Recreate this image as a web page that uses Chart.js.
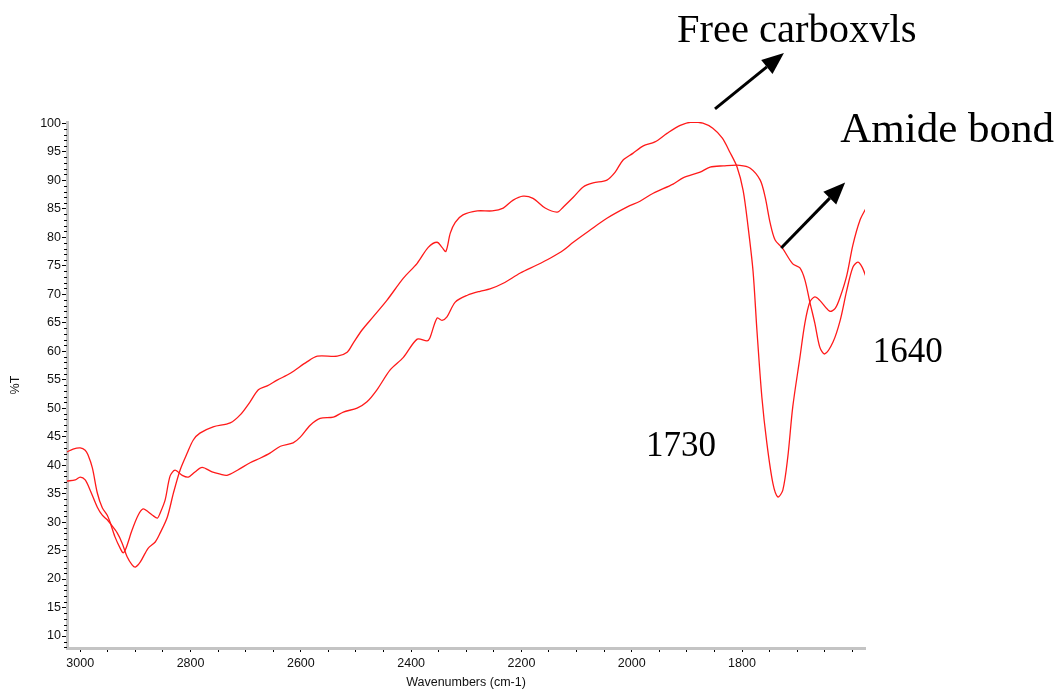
<!DOCTYPE html>
<html>
<head>
<meta charset="utf-8">
<script src="https://cdn.jsdelivr.net/npm/chart.js@4.4.1/dist/chart.umd.min.js"></script>
<style>
  html, body { margin: 0; padding: 0; background: #ffffff; }
  canvas { display: block; }
</style>
</head>
<body>
<canvas id="ftir" width="1057" height="692"></canvas>
<script>
// FTIR transmittance spectra, wavenumber (cm-1) vs %T
const carboxylWavenumbers = [
  3024, 3009, 3000, 2991, 2982, 2969, 2960, 2951, 2946, 2933, 2924, 2915, 2906, 2900, 2891,
  2877, 2864, 2855, 2842, 2831, 2819, 2806, 2795, 2783, 2759, 2728, 2710, 2692, 2677, 2661,
  2643, 2619, 2589, 2570, 2534, 2516, 2505, 2489, 2469, 2444, 2414, 2389, 2369, 2353, 2344,
  2337, 2329, 2320, 2306, 2280, 2253, 2233, 2215, 2197, 2179, 2157, 2135, 2124, 2106, 2088,
  2070, 2045, 2030, 2016, 1998, 1979, 1958, 1936, 1912, 1891, 1871, 1853, 1836, 1822, 1809,
  1798, 1789, 1780, 1773, 1764, 1755, 1744, 1735, 1726, 1717, 1708, 1695, 1686, 1677, 1668,
  1659, 1641, 1631, 1622, 1610, 1599, 1586, 1575
];
const carboxylT = [
  37.2, 37.4, 37.9, 37.4, 35.6, 32.6, 31.2, 30.4, 29.8, 28.1, 26.3, 23.9, 22.5, 22.1, 23.0,
  25.4, 26.5, 28.1, 30.9, 35.1, 39.1, 42.1, 44.4, 45.6, 46.7, 47.4, 48.8, 51.1, 53.2, 53.9,
  54.9, 56.1, 58.1, 59.1, 59.1, 59.8, 61.4, 63.7, 66.0, 68.9, 72.8, 75.4, 78.2, 79.1, 78.2,
  77.5, 80.7, 82.6, 83.9, 84.6, 84.6, 85.1, 86.5, 87.2, 86.8, 85.1, 84.4, 85.3, 87.0, 88.8,
  89.5, 90.0, 91.4, 93.5, 94.7, 96.0, 96.7, 98.2, 99.6, 100.2, 100.0, 99.1, 97.4, 94.9, 92.3,
  88.2, 81.8, 74.0, 63.7, 51.9, 43.9, 36.8, 34.4, 35.6, 41.4, 50.2, 58.9, 64.9, 68.6, 69.5,
  68.9, 67.0, 67.5, 69.5, 73.3, 78.6, 83.0, 85.1
];

const amideWavenumbers = [
  3024, 3013, 3000, 2991, 2986, 2978, 2969, 2960, 2951, 2946, 2937, 2927, 2922, 2917, 2906,
  2895, 2886, 2877, 2869, 2860, 2855, 2846, 2837, 2828, 2815, 2804, 2792, 2779, 2761, 2746,
  2734, 2715, 2692, 2674, 2656, 2637, 2614, 2601, 2583, 2565, 2541, 2523, 2498, 2480, 2462,
  2438, 2414, 2389, 2371, 2366, 2353, 2344, 2335, 2320, 2298, 2275, 2257, 2233, 2202, 2172,
  2148, 2124, 2106, 2076, 2045, 2008, 1985, 1961, 1925, 1907, 1876, 1858, 1834, 1804, 1785,
  1767, 1758, 1749, 1740, 1727, 1708, 1695, 1686, 1677, 1668, 1659, 1650, 1635, 1622, 1610,
  1599, 1590, 1582, 1575
];
const amideT = [
  42.3, 42.8, 43.0, 42.6, 41.8, 39.5, 35.1, 32.5, 31.2, 30.0, 27.4, 25.3, 24.6, 25.4, 28.6,
  31.2, 32.3, 31.8, 31.2, 30.7, 31.6, 33.9, 38.1, 39.1, 38.2, 37.9, 38.8, 39.6, 38.8, 38.4,
  38.2, 39.1, 40.4, 41.2, 42.1, 43.3, 43.9, 44.9, 47.0, 48.2, 48.4, 49.3, 50.0, 51.1, 53.2,
  56.7, 58.9, 62.1, 61.8, 62.3, 65.8, 65.4, 66.0, 68.6, 69.8, 70.5, 70.9, 71.9, 73.7, 75.1,
  76.3, 77.7, 79.1, 81.2, 83.3, 85.3, 86.3, 87.7, 89.3, 90.4, 91.4, 92.3, 92.5, 92.6, 92.1,
  90.0, 87.0, 82.5, 79.5, 78.1, 75.3, 74.6, 72.5, 68.6, 64.9, 60.7, 59.5, 61.6, 65.4, 70.7,
  74.7, 75.6, 74.7, 73.0
];

const xTickLabels = ['3000', '2800', '2600', '2400', '2200', '2000', '1800'];
const yTickLabels = ['10', '15', '20', '25', '30', '35', '40', '45', '50', '55', '60', '65', '70', '75', '80', '85', '90', '95', '100'];

// Text notes and arrows, placed in wavenumber / %T units
const notes = [
  { text: 'Free carboxvls', w: 1918, t: 114.2, size: 40.5 },
  { text: 'Amide bond', w: 1622, t: 96.7, size: 43 },
  { text: '1640', w: 1563, t: 58.1, size: 35 },
  { text: '1730', w: 1974, t: 41.6, size: 35 }
];
const arrows = [
  { from: [1849, 102.5], to: [1724, 112.3] },
  { from: [1729, 78.1], to: [1613, 89.6] }
];

const toPoints = (xs, ys) => xs.map((x, i) => ({ x: x, y: ys[i] }));

const axisFont = { family: "'Liberation Sans', Arial, Helvetica, sans-serif", size: 12.5 };

const axisDecor = {
  id: 'axisDecor',
  afterDraw(chart) {
    const { ctx, chartArea, scales } = chart;
    const y = scales.y;
    ctx.save();
    // minor ticks on the %T axis, one per unit
    ctx.strokeStyle = '#000';
    ctx.lineWidth = 1;
    for (let v = Math.ceil(y.min); v <= Math.floor(y.max); v++) {
      if (v % 5 === 0) continue;
      const py = Math.round(y.getPixelForValue(v)) + 0.5;
      ctx.beginPath();
      ctx.moveTo(chartArea.left - 3, py);
      ctx.lineTo(chartArea.left, py);
      ctx.stroke();
    }
    ctx.restore();
  }
};

const noteLayer = {
  id: 'noteLayer',
  afterDraw(chart) {
    const { ctx, scales } = chart;
    const px = (w) => scales.x.getPixelForValue(w);
    const py = (t) => scales.y.getPixelForValue(t);
    ctx.save();
    ctx.fillStyle = '#000';
    ctx.textAlign = 'left';
    ctx.textBaseline = 'alphabetic';
    notes.forEach(n => {
      ctx.font = n.size + "px 'Liberation Serif', 'Times New Roman', serif";
      ctx.fillText(n.text, px(n.w), py(n.t));
    });
    arrows.forEach(a => {
      const x1 = px(a.from[0]), y1 = py(a.from[1]);
      const x2 = px(a.to[0]), y2 = py(a.to[1]);
      const ang = Math.atan2(y2 - y1, x2 - x1);
      const headLen = 22, headHalf = 9;
      const bx = x2 - headLen * Math.cos(ang), by = y2 - headLen * Math.sin(ang);
      ctx.strokeStyle = '#000';
      ctx.lineWidth = 3;
      ctx.beginPath();
      ctx.moveTo(x1, y1);
      ctx.lineTo(bx, by);
      ctx.stroke();
      ctx.beginPath();
      ctx.moveTo(x2, y2);
      ctx.lineTo(bx + headHalf * Math.sin(ang), by - headHalf * Math.cos(ang));
      ctx.lineTo(bx - headHalf * Math.sin(ang), by + headHalf * Math.cos(ang));
      ctx.closePath();
      ctx.fill();
    });
    ctx.restore();
  }
};

new Chart(document.getElementById('ftir'), {
  type: 'line',
  data: {
    datasets: [
      {
        label: 'Free carboxyls',
        data: toPoints(carboxylWavenumbers, carboxylT),
        borderColor: '#ff1a1a',
        borderWidth: 1.3,
        pointRadius: 0,
        tension: 0.3,
        fill: false
      },
      {
        label: 'Amide bond',
        data: toPoints(amideWavenumbers, amideT),
        borderColor: '#ff1a1a',
        borderWidth: 1.3,
        pointRadius: 0,
        tension: 0.3,
        fill: false
      }
    ]
  },
  options: {
    responsive: false,
    animation: false,
    events: [],
    layout: { padding: { top: 122, right: 192, bottom: 0, left: 0 } },
    plugins: {
      legend: { display: false },
      tooltip: { enabled: false },
      title: { display: false }
    },
    scales: {
      x: {
        type: 'linear',
        reverse: true,
        min: 1577,
        max: 3024,
        afterFit(scale) { scale.height = 44; },
        border: { display: true, color: '#c4c4c4', width: 3 },
        grid: { drawOnChartArea: false, drawTicks: true, tickLength: 4, color: '#000', tickColor: '#000' },
        ticks: {
          stepSize: 50,
          includeBounds: false,
          autoSkip: false,
          maxRotation: 0,
          padding: 4,
          color: '#111',
          font: axisFont,
          callback: (v) => {
            const s = String(Math.round(v));
            return xTickLabels.includes(s) ? s : '';
          }
        },
        title: {
          display: true,
          text: 'Wavenumbers (cm-1)',
          color: '#111',
          font: axisFont,
          padding: { top: 0, bottom: 2 }
        }
      },
      y: {
        type: 'linear',
        min: 7.9,
        max: 100.2,
        afterFit(scale) { scale.width = 67; },
        border: { display: true, color: '#c4c4c4', width: 3 },
        grid: { drawOnChartArea: false, drawTicks: true, tickLength: 5, color: '#000', tickColor: '#000' },
        ticks: {
          stepSize: 5,
          includeBounds: false,
          autoSkip: false,
          padding: 1,
          color: '#111',
          font: axisFont,
          callback: (v) => {
            const s = String(Math.round(v));
            return yTickLabels.includes(s) ? s : '';
          }
        },
        title: {
          display: true,
          text: '%T',
          color: '#111',
          font: axisFont,
          padding: { top: 8, bottom: 0 }
        }
      }
    }
  },
  plugins: [axisDecor, noteLayer]
});
</script>
</body>
</html>
